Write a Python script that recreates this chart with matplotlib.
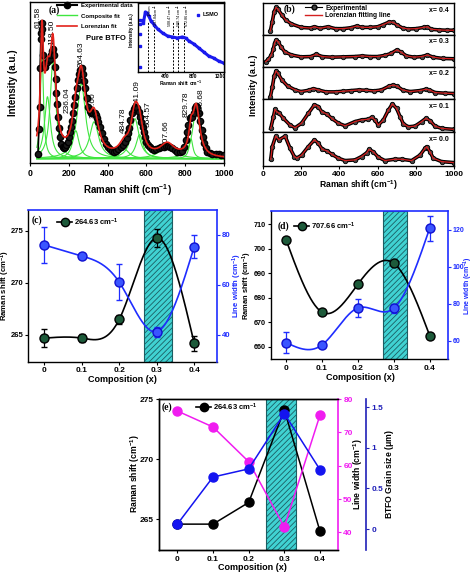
import numpy as np
import matplotlib
matplotlib.use('Agg')
import matplotlib.pyplot as plt
from matplotlib.lines import Line2D

plt.rcParams['font.family'] = ['Liberation Sans', 'DejaVu Sans']
plt.rcParams['font.weight'] = 'bold'
plt.rcParams['axes.labelweight'] = 'bold'
plt.rcParams['mathtext.fontset'] = 'custom'
plt.rcParams['mathtext.rm'] = 'Liberation Sans:bold'
plt.rcParams['mathtext.it'] = 'Liberation Sans:bold'
plt.rcParams['mathtext.bf'] = 'Liberation Sans:bold'
plt.rcParams['axes.linewidth'] = 1.0
plt.rcParams['hatch.linewidth'] = 0.6

W, H = 474, 574

# ---------------- data ----------------
# (a) pure BTFO spectrum (intensity in arbitrary units)
a_shift = [41, 46, 50, 52, 56, 58, 61, 64, 67, 72, 76, 83, 90, 96, 102, 108, 114, 120, 124, 128,
           132, 136, 140, 145, 150, 154, 162, 170, 176, 182, 188, 194, 200, 205, 210, 216, 222, 228,
           234, 241, 248, 254, 260, 266, 274, 280, 286, 293, 300, 307, 314, 320, 326, 333, 340, 346,
           352, 360, 369, 379, 390, 401, 412, 423, 435, 445, 455, 468, 481, 490, 498, 504, 509, 517,
           526, 534, 543, 551, 560, 567, 574, 580, 586, 593, 600, 608, 616, 627, 638, 651, 664, 677,
           690, 701, 712, 722, 733, 746, 759, 772, 785, 794, 802, 809, 816, 824, 830, 836, 843, 850,
           856, 862, 871, 878, 885, 891, 897, 905, 914, 927, 940, 957, 974, 987, 1000]
a_int = [5, 30, 52, 91, 120, 126, 136, 130, 104, 95, 92, 96, 97, 99, 100, 104, 108, 110, 104, 92,
         80, 66, 55, 42, 31, 22, 15, 12, 11, 12, 14, 17, 22, 27, 32, 38, 46, 54,
         62, 71, 79, 85, 89, 91, 85, 78, 71, 61, 52, 48, 46, 46, 46, 46, 44, 41,
         37, 32, 26, 20, 15, 12, 10, 8, 7, 8, 10, 12, 14, 17, 21, 26, 31, 39,
         46, 50, 52, 51, 47, 42, 37, 32, 27, 22, 17, 14, 12, 10, 9, 10, 11, 12,
         12, 13, 13, 12, 11, 9, 7, 7, 8, 12, 19, 27, 34, 41, 42, 42, 46, 51,
         53, 52, 46, 38, 29, 22, 16, 11, 7, 6, 5, 5, 5, 4, 4]

# Lorentzian components (centre, height, half width)
peak_pos = [61.58, 90, 118.50, 236.04, 264.63, 330.60, 484.78, 541.09, 564.57, 707.66, 829.78, 856.68]
peak_h = [110, 62, 100, 28, 75, 37, 10, 40, 24, 13, 20, 50]
peak_w = [9, 18, 17, 20, 26, 28, 30, 25, 22, 45, 12, 22]
peak_labels = ['61.58', '118.50', '236.04', '264.63', '330.60', '484.78',
               '541.09', '564.57', '707.66', '829.78', '856.68']

# inset: LSMO
lsmo_shift = [30, 30, 30, 30, 30, 75, 75, 106, 126, 155, 189, 237, 286, 358, 431, 503, 576,
              648, 697, 745, 818, 890, 963, 1035, 1107, 1180, 1253]
lsmo_int = [4, 25, 37, 47, 51, 50, 48, 59, 58, 55, 50, 46, 42, 38, 35, 34, 33,
            34, 33, 30, 27, 23, 19, 15, 13, 10, 8]
lsmo_lines = [150, 237.84, 508.47, 580.74, 672.86]
lsmo_line_labels = ['150cm', '237.84cm$^{-1}$', '508.47 cm$^{-1}$', '580.74 cm$^{-1}$', '672.86 cm$^{-1}$']

# (b) doped spectra, normalised to each strip
b_comp = ['x= 0.4', 'x= 0.3', 'x= 0.2', 'x= 0.1', 'x= 0.0']
b_shift_04 = [40, 50, 60, 70, 80, 100, 120, 150, 200, 250, 270, 300, 340, 380, 420, 460, 490, 520,
              560, 600, 630, 660, 680, 700, 730, 760, 800, 840, 860, 880, 920, 960, 1000]
b_int_04 = [0.13, 0.42, 0.74, 0.87, 0.81, 0.63, 0.47, 0.35, 0.24, 0.22, 0.26, 0.21, 0.26, 0.20,
            0.20, 0.23, 0.28, 0.24, 0.24, 0.26, 0.33, 0.41, 0.40, 0.32, 0.22, 0.19, 0.20, 0.24,
            0.26, 0.18, 0.16, 0.15, 0.15]
b_shift_03 = [15, 30, 45, 55, 62, 70, 80, 95, 115, 150, 200, 250, 280, 310, 360, 420, 480, 520,
              560, 600, 640, 670, 700, 720, 750, 790, 830, 860, 890, 940, 1000]
b_int_03 = [0.16, 0.23, 0.37, 0.55, 0.74, 0.84, 0.79, 0.63, 0.47, 0.37, 0.31, 0.32, 0.39, 0.32,
            0.30, 0.31, 0.32, 0.34, 0.32, 0.32, 0.36, 0.42, 0.53, 0.47, 0.34, 0.30, 0.32, 0.37,
            0.30, 0.26, 0.25]
b_shift_02 = [40, 50, 60, 70, 80, 100, 130, 170, 200, 240, 265, 290, 330, 380, 420, 460, 500, 540,
              580, 620, 660, 680, 700, 730, 770, 820, 850, 870, 900, 950, 1000]
b_int_02 = [0.07, 0.36, 0.71, 0.87, 0.79, 0.59, 0.40, 0.28, 0.23, 0.27, 0.32, 0.28, 0.22, 0.22,
            0.24, 0.26, 0.28, 0.27, 0.25, 0.28, 0.40, 0.43, 0.40, 0.28, 0.23, 0.26, 0.30, 0.28,
            0.20, 0.18, 0.17]
b_shift_01 = [42, 56, 64, 73, 87, 108, 143, 169, 203, 238, 270, 290, 308, 334, 360, 395, 430, 482,
              516, 551, 569, 586, 603, 630, 656, 677, 699, 717, 734, 760, 795, 830, 852, 873, 899,
              934, 1000]
b_int_01 = [0.10, 0.46, 0.68, 0.61, 0.56, 0.41, 0.20, 0.12, 0.26, 0.56, 0.82, 0.77, 0.61, 0.54,
            0.41, 0.26, 0.18, 0.31, 0.36, 0.38, 0.44, 0.36, 0.20, 0.36, 0.66, 0.85, 0.71, 0.46,
            0.24, 0.15, 0.17, 0.31, 0.41, 0.34, 0.17, 0.10, 0.07]
b_shift_00 = [42, 50, 68, 85, 117, 143, 165, 177, 203, 238, 270, 290, 311, 334, 360, 395, 430, 482,
              516, 543, 555, 577, 603, 638, 690, 725, 777, 821, 847, 856, 873, 890, 934, 1000]
b_int_00 = [0.19, 0.56, 0.87, 0.76, 0.87, 0.51, 0.27, 0.22, 0.31, 0.56, 0.76, 0.66, 0.48, 0.44,
            0.34, 0.22, 0.15, 0.17, 0.27, 0.38, 0.48, 0.41, 0.25, 0.15, 0.19, 0.19, 0.15, 0.31,
            0.51, 0.56, 0.41, 0.22, 0.12, 0.09]

# (c), (d), (e) composition dependence
comp = [0, 0.1, 0.2, 0.3, 0.4]
shift_264 = [264.7, 264.7, 266.5, 274.3, 264.2]
shift_264_err = [0.84, 0.39, 0.45, 0.84, 0.69]
width_264 = [76.0, 71.6, 61.1, 41.3, 75.3]
width_264_err = [7.2, 0.8, 7.1, 2.0, 4.7]
shift_707 = [703.7, 674.1, 685.5, 694.1, 664.5]
width_707 = [59.1, 57.8, 77.8, 77.6, 120.9]
width_707_err = [5.6, 1.0, 4.7, 2.5, 6.8]
e_shift = [264.6, 264.6, 266.4, 274.1, 264.0]
e_width = [76.4, 71.6, 61.2, 41.6, 75.2]
grain = [0.06, 0.64, 0.74, 1.42, 0.73]

# ---------------- helpers ----------------
fig = plt.figure(figsize=(W / 100, H / 100), dpi=100)


def add_ax(l, t, r, b):
    return fig.add_axes([l / W, 1 - b / H, (r - l) / W, (b - t) / H])


def ftext(x, y, s, **kw):
    fig.text(x / W, 1 - y / H, s, ha=kw.pop('ha', 'center'), va=kw.pop('va', 'center'), **kw)


def spline(x, y, n=200):
    # natural cubic spline, used only to draw the smooth connecting line
    x = np.asarray(x, float)
    y = np.asarray(y, float)
    k = len(x)
    h = np.diff(x)
    A = np.zeros((k, k))
    r = np.zeros(k)
    A[0, 0] = A[-1, -1] = 1
    for i in range(1, k - 1):
        A[i, i - 1] = h[i - 1]
        A[i, i] = 2 * (h[i - 1] + h[i])
        A[i, i + 1] = h[i]
        r[i] = 3 * ((y[i + 1] - y[i]) / h[i] - (y[i] - y[i - 1]) / h[i - 1])
    c = np.linalg.solve(A, r)
    b = (y[1:] - y[:-1]) / h - h * (2 * c[:-1] + c[1:]) / 3
    d = (c[1:] - c[:-1]) / (3 * h)
    xs = np.linspace(x[0], x[-1], n)
    idx = np.clip(np.searchsorted(x, xs) - 1, 0, k - 2)
    dx = xs - x[idx]
    return xs, y[idx] + b[idx] * dx + c[idx] * dx ** 2 + d[idx] * dx ** 3


def small_legend(x, y, label, mfc, fs=5.5):
    h = Line2D([], [], color='k', lw=1.2, marker='o', ms=6, mfc=mfc, mec='k')
    fig.legend([h], [label], loc='center left', bbox_to_anchor=(x / W, 1 - y / H),
               frameon=False, fontsize=fs, handlelength=2.0, handletextpad=0.2,
               borderpad=0, borderaxespad=0)


# ---------------- (a) ----------------
ax = add_ax(30, 2, 224, 163)
xs = np.linspace(35, 1000, 1400)
comps = [h / (1 + ((xs - c) / w) ** 2) for c, h, w in zip(peak_pos, peak_h, peak_w)]
for cp in comps:
    ax.plot(xs, cp, color='#3fe63f', lw=0.8, zorder=2)
ax.plot(a_shift, a_int, '-o', color='k', lw=1.2, ms=4.5, mfc='#1a1a1a', mec='k', zorder=3)
ax.plot(xs, np.sum(comps, axis=0), color='#e3221b', lw=1.2, zorder=4)
ax.set_xlim(0, 1000)
ax.set_ylim(-4.3, 156.7)
ax.set_yticks([])
ax.set_xticks(range(0, 1001, 200))
ax.tick_params(labelsize=6.3, length=2.5, width=0.8, pad=1.5)
lab_xy = [(41, 141), (111, 126), (191, 59), (263, 104), (325, 54), (479, 38),
          (550, 66), (610, 45), (701, 26), (804, 54), (883, 58)]
for (lx, ly), s in zip(lab_xy, peak_labels):
    ax.text(lx, ly, s, rotation=90, ha='center', va='center', fontsize=6, fontweight='normal')
ftext(54, 10, '(a)', fontsize=7, family='Liberation Serif')
ftext(106, 39, 'Pure BTFO', fontsize=5.5)
ha_ = [Line2D([], [], color='k', lw=1.5, marker='o', ms=4.5),
       Line2D([], [], color='#3fe63f', lw=1),
       Line2D([], [], color='#e3221b', lw=1.2)]
fig.legend(ha_, ['Experimental data', 'Composite fit', 'Lorenzian fit'], loc='upper left',
           bbox_to_anchor=(57 / W, 1 - 2.5 / H), frameon=False, fontsize=4.3, handlelength=3.4,
           handletextpad=0.7, labelspacing=0.95, borderpad=0, borderaxespad=0)
ftext(127, 190, 'Raman shift (cm$^{-1}$)', fontsize=7)
ftext(13, 83, 'Intensity (a.u.)', fontsize=7, rotation=90)

# inset
axi = add_ax(137.5, 2.5, 224, 71.5)
lab_dx = [25, 25, -30, 25, 45]
for xv, s, dx in zip(lsmo_lines, lsmo_line_labels, lab_dx):
    axi.plot([xv, xv], [-0.5, 49], color='k', lw=0.7, ls=(0, (2, 1.5)))
    axi.text(xv + dx, 67, s, rotation=90, ha='center', va='top', fontsize=2.8, fontweight='normal')
axi.plot(lsmo_shift[5:], lsmo_int[5:], color='#1a1aee', lw=2.2)
axi.plot(lsmo_shift, lsmo_int, 's', color='#1a1aee', ms=2)
axi.plot([880], [56], 's', color='#1a1aee', ms=2)
axi.text(940, 56, 'LSMO', fontsize=4, va='center')
axi.set_xlim(-10, 1260)
axi.set_ylim(-0.5, 68.5)
axi.set_yticks([])
axi.set_xticks([400, 800, 1200])
axi.tick_params(labelsize=3.6, length=1.5, width=0.6, pad=0.5)
ftext(181, 83, 'Raman shift cm$^{-1}$', fontsize=3.6)
ftext(132, 30, 'Intensity (a.u.)', fontsize=3.6, rotation=90)

# ---------------- (b) ----------------
b_edges = [3.3, 35, 66.7, 99, 131.7, 165.7]
b_data = [(b_shift_04, b_int_04), (b_shift_03, b_int_03), (b_shift_02, b_int_02),
          (b_shift_01, b_int_01), (b_shift_00, b_int_00)]
for i, ((sx, sy), lab) in enumerate(zip(b_data, b_comp)):
    axb = add_ax(262.7, b_edges[i], 454.3, b_edges[i + 1])
    axb.plot(sx, sy, '-o', color='k', lw=2.6, ms=3.2, mfc='#444', mec='k', mew=0.6)
    axb.plot(sx, sy, color='#d42020', lw=0.9)
    axb.set_xlim(0, 1000)
    axb.set_ylim(0, 1)
    axb.set_yticks([])
    axb.text(0.92, 0.78, lab, transform=axb.transAxes, ha='center', va='center', fontsize=5)
    if i < 4:
        axb.set_xticks([])
    else:
        axb.set_xticks(range(0, 1001, 200))
        axb.tick_params(labelsize=6, length=2.5, width=0.8, pad=1.2)
ftext(290, 9, '(b)', fontsize=7, family='Liberation Serif')
hb = [Line2D([], [], color='k', lw=0.8, marker='o', ms=3.5, mfc='#444'),
      Line2D([], [], color='#d42020', lw=1)]
fig.legend(hb, ['Experimental', 'Lorenzian fitting line'], loc='upper left',
           bbox_to_anchor=(305 / W, 1 - 4.5 / H), frameon=False, fontsize=4.8, handlelength=2.6,
           handletextpad=0.4, labelspacing=0.05, borderpad=0, borderaxespad=0)
ftext(358, 185, 'Raman shift (cm$^{-1}$)', fontsize=6.2)
ftext(254, 85, 'Intensity (a.u.)', fontsize=6.5, rotation=90)

BLUE = '#1f2dff'
GBALL = '#1d5a3a'


def span(a, x0, x1):
    a.axvspan(x0, x1, facecolor='#40d2d2', edgecolor='#1b5e63', hatch='//////', lw=0.8, zorder=0)


def blue_twin(a):
    a2 = a.twinx()
    for side in ('right', 'top'):
        a2.spines[side].set_color(BLUE)
        a2.spines[side].set_linewidth(1.2)
    a2.spines['left'].set_visible(False)
    a2.spines['bottom'].set_visible(False)
    a.spines['top'].set_visible(False)
    a.spines['right'].set_visible(False)
    a2.tick_params(axis='y', colors=BLUE, labelsize=6, length=2.5, width=0.8, pad=1.5)
    return a2


# ---------------- (c) ----------------
axc = add_ax(28.3, 210, 216.7, 361.7)
span(axc, 0.266, 0.34)
sx, sy = spline(comp, shift_264)
axc.plot(sx, sy, color='k', lw=1.2)
axc.errorbar(comp, shift_264, yerr=shift_264_err, fmt='o', color='k', ms=6.5, mfc=GBALL,
             mec='k', capsize=2, elinewidth=0.9)
axc.set_xlim(-0.0427, 0.46)
axc.set_ylim(262.44, 276.98)
axc.set_xticks(comp)
axc.set_xticklabels(['0', '0.1', '0.2', '0.3', '0.4'])
axc.set_yticks([265, 270, 275])
axc.tick_params(labelsize=6, length=2.5, width=0.8, pad=1.5)
axc.tick_params(axis='y', labelsize=5.5, pad=1.2)
axc2 = blue_twin(axc)
sx, sy = spline(comp, width_264)
axc2.plot(sx, sy, color=BLUE, lw=1.2)
axc2.errorbar(comp, width_264, yerr=width_264_err, fmt='o', color=BLUE, ms=6.5, mfc='#3a55ff',
              mec='#1010d0', capsize=2, elinewidth=0.9)
axc2.set_ylim(29.3, 90)
axc2.set_yticks([40, 60, 80])
axc2.tick_params(axis='y', labelsize=5.6, pad=1.2)
ftext(37, 220, '(c)', fontsize=7, family='Liberation Serif')
small_legend(57, 222, '264.63 cm$^{-1}$', GBALL)
ftext(122, 380, 'Composition (x)', fontsize=6.5)
ftext(5.5, 286, 'Raman shift (cm$^{-1}$)', fontsize=5.6, rotation=90)
ftext(237.5, 286, 'Line width (cm$^{-1}$)', fontsize=5.6, rotation=90, color=BLUE)

# ---------------- (d) ----------------
axd = add_ax(271, 211, 448, 359)
span(axd, 0.27, 0.3375)
sx, sy = spline(comp, shift_707)
axd.plot(sx, sy, color='k', lw=1.2)
axd.plot(comp, shift_707, 'o', color='k', ms=6.5, mfc=GBALL, mec='k')
axd.set_xlim(-0.0419, 0.451)
axd.set_ylim(654.9, 715.5)
axd.set_xticks(comp)
axd.set_xticklabels(['0', '0.1', '0.2', '0.3', '0.4'])
axd.set_yticks(range(660, 711, 10))
axd.tick_params(labelsize=6, length=2.5, width=0.8, pad=1.5)
axd.tick_params(axis='y', labelsize=5.2, pad=1.0)
axd2 = blue_twin(axd)
sx, sy = spline(comp, width_707)
axd2.plot(sx, sy, color=BLUE, lw=1.2)
axd2.errorbar(comp, width_707, yerr=width_707_err, fmt='o', color=BLUE, ms=6.5, mfc='#3a55ff',
              mec='#1010d0', capsize=2, elinewidth=0.9)
axd2.set_ylim(50.2, 130.2)
axd2.set_yticks([60, 80, 100, 120])
axd2.tick_params(axis='y', labelsize=5.0, pad=0.8)
ftext(283, 226, '(d)', fontsize=7, family='Liberation Serif')
small_legend(294, 226, '707.66 cm$^{-1}$', GBALL)
ftext(360, 377, 'Composition (x)', fontsize=6.5)
ftext(247.5, 286, 'Raman shift (cm$^{-1}$)', fontsize=5.4, rotation=90)
ftext(468.3, 286, 'Line width (cm$^{-1}$)', fontsize=5.0, rotation=90, color=BLUE)

# ---------------- (e) ----------------
MAG = '#f01cf0'
NAVY = '#2020b8'
axe = add_ax(159, 399, 337.7, 550)
span(axe, 0.249, 0.333)
axe.plot(comp, e_shift, '-o', color='k', lw=1.1, ms=6.5, zorder=3)
axe.set_xlim(-0.0514, 0.4496)
axe.set_ylim(262.45, 275)
axe.set_xticks(comp)
axe.set_xticklabels(['0', '0.1', '0.2', '0.3', '0.4'])
axe.set_yticks([265, 270, 275])
axe.tick_params(labelsize=6, length=2.5, width=0.8, pad=1.5)
axe.spines['right'].set_visible(False)
axe2 = axe.twinx()
axe2.plot(comp, e_width, '-o', color=MAG, lw=1.1, ms=6.5)
axe2.set_ylim(34.7, 80)
axe2.set_yticks([40, 50, 60, 70, 80])
axe2.spines['right'].set_color(MAG)
axe2.spines['right'].set_linewidth(1.2)
axe2.tick_params(axis='y', colors=MAG, labelsize=6, length=2.5, width=0.8, pad=1.5)
axe3 = axe.twinx()
axe3.spines['right'].set_position(('axes', 1.158))
axe3.spines['right'].set_color(NAVY)
axe3.spines['right'].set_linewidth(1.2)
for s in ('left', 'top', 'bottom'):
    axe3.spines[s].set_visible(False)
axe3.plot(comp, grain, '-o', color='#1414f0', lw=1.1, ms=6.5)
axe3.set_ylim(-0.258, 1.6)
axe3.set_yticks([0, 0.5, 1, 1.5])
axe3.set_yticklabels(['0', '0.5', '1', '1.5'])
axe3.tick_params(axis='y', colors=NAVY, labelsize=6, length=2.5, width=0.8, pad=1.5)
ftext(167, 407, '(e)', fontsize=7, family='Liberation Serif')
small_legend(196, 407, '264.63 cm$^{-1}$', 'k')
ftext(252, 568, 'Composition (x)', fontsize=6.5)
ftext(135, 474, 'Raman shift (cm$^{-1}$)', fontsize=6.2, rotation=90)
ftext(358, 474, 'Line width (cm$^{-1}$)', fontsize=6.2, rotation=90)
ftext(390, 474, 'BTFO Grain size ($\\mu$m)', fontsize=6.2, rotation=90)

fig.savefig('out.png', dpi=100)
